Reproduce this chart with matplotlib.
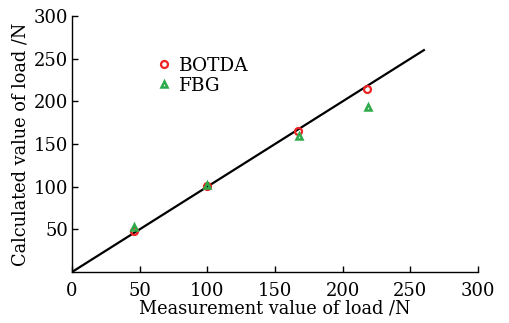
import matplotlib.pyplot as plt

# data
line_x = [0, 260]
line_y = [0, 260]

botda_x = [45.5, 99.5, 167, 218]
botda_y = [48, 101, 165, 215]

fbg_x = [46, 100, 167.5, 219]
fbg_y = [53, 102, 159, 193]

xticks = [0, 50, 100, 150, 200, 250, 300]
yticks = [50, 100, 150, 200, 250, 300]

plt.rcParams['font.family'] = ['DejaVu Serif']

fig = plt.figure(figsize=(5.09, 3.23), dpi=100)
ax = fig.add_axes([72 / 509, 51 / 323, 406 / 509, 256 / 323])

ax.plot(line_x, line_y, color='black', lw=1.6)
ax.plot(botda_x, botda_y, 'o', ls='none', mfc='none', mec='#ee2222', mew=1.6,
        ms=5, label='BOTDA')
ax.plot(fbg_x, fbg_y, '^', ls='none', mfc='none', mec='#2eaa4a', mew=1.8,
        ms=5, label='FBG')

ax.set_xlim(0, 300)
ax.set_ylim(0, 300)
ax.set_xticks(xticks)
ax.set_yticks(yticks)
ax.tick_params(direction='in', labelsize=13, length=4, width=1, pad=2.5)
ax.tick_params(axis='x', pad=7)
for s in ['top', 'right']:
    ax.spines[s].set_visible(False)
for s in ['left', 'bottom']:
    ax.spines[s].set_linewidth(1)

ax.set_xlabel('Measurement value of load /N', fontsize=12.8, labelpad=0)
ax.set_ylabel('Calculated value of load /N', fontsize=12.8, labelpad=3)

ax.legend(loc='upper left', bbox_to_anchor=(0.185, 0.87), frameon=False,
          fontsize=13.3, handletextpad=0.3, labelspacing=0.1, handlelength=1,
          borderaxespad=0)

fig.savefig('out.png', dpi=100)
